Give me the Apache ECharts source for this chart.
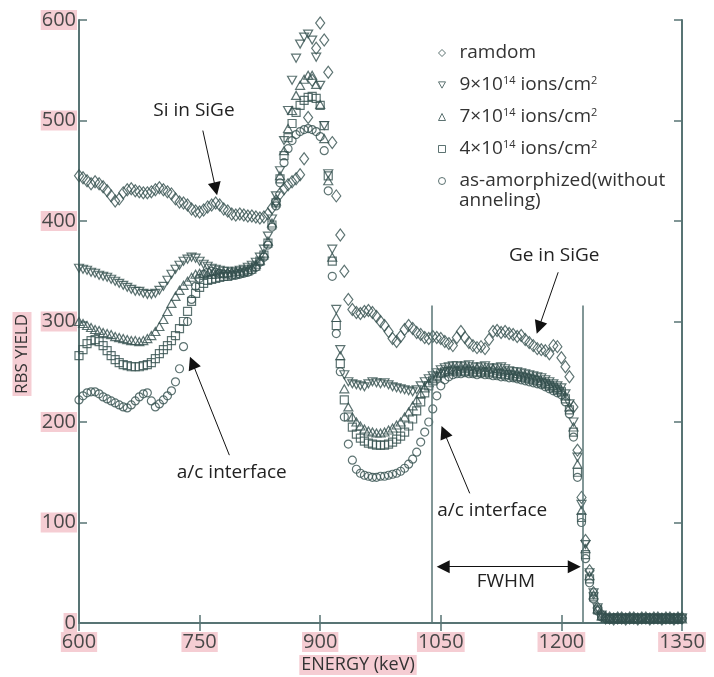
<!DOCTYPE html>
<html>
<head>
<meta charset="utf-8">
<title>RBS yield</title>
<script src="https://cdn.jsdelivr.net/npm/echarts@6/dist/echarts.min.js"></script>
<style>
  html, body { margin: 0; padding: 0; background: #fff; }
  #chart { width: 714px; height: 677px; }
</style>
</head>
<body>
<div id="chart"></div>
<script>
// energy channels (keV)
var energy = [
  600, 605, 610, 615, 620, 625, 630, 635, 640, 645,
  650, 655, 660, 665, 670, 675, 680, 685, 690, 695,
  700, 705, 710, 715, 720, 725, 730, 735, 740, 745,
  750, 755, 760, 765, 770, 775, 780, 785, 790, 795,
  800, 805, 810, 815, 820, 825, 830, 835, 840, 845,
  850, 855, 860, 865, 870, 875, 880, 885, 890, 895,
  900, 905, 910, 915, 920, 925, 930, 935, 940, 945,
  950, 955, 960, 965, 970, 975, 980, 985, 990, 995,
  1000, 1005, 1010, 1015, 1020, 1025, 1030, 1035, 1040, 1045,
  1050, 1055, 1060, 1065, 1070, 1075, 1080, 1085, 1090, 1095,
  1100, 1105, 1110, 1115, 1120, 1125, 1130, 1135, 1140, 1145,
  1150, 1155, 1160, 1165, 1170, 1175, 1180, 1185, 1190, 1195,
  1200, 1205, 1210, 1215, 1220, 1225, 1230, 1235, 1240, 1245,
  1250, 1255, 1260, 1265, 1270, 1275, 1280, 1285, 1290, 1295,
  1300, 1305, 1310, 1315, 1320, 1325, 1330, 1335, 1340, 1345,
  1350
];

var ramdom = [
  445, 443, 440, 437, 439, 437, 434, 430, 425, 420,
  422, 428, 431, 432, 430, 429, 428, 428, 429, 431,
  433, 431, 429, 427, 422, 419, 418, 416, 412, 410,
  409, 411, 414, 416, 418, 416, 412, 410, 407, 406,
  407, 406, 405, 405, 404, 403, 404, 407, 413, 420,
  427, 432, 436, 439, 442, 446, 462, 503, 540, 572,
  597, 580, 548, 478, 425, 386, 350, 322, 312, 309,
  308, 310, 311, 309, 305, 300, 296, 290, 283, 280,
  285, 292, 296, 293, 289, 287, 284, 283, 285, 284,
  283, 280, 278, 276, 284, 290, 284, 279, 276, 274,
  275, 273, 282, 290, 291, 289, 290, 288, 287, 285,
  286, 282, 279, 276, 273, 272, 271, 268, 276, 275,
  264, 255, 245, 215, 172, 125, 82, 52, 30, 15,
  8, 5, 5, 4, 5, 5, 4, 5, 5, 4,
  5, 5, 4, 5, 5, 4, 5, 5, 4, 5,
  5
];

var dose9 = [
  353, 352, 351, 349, 348, 346, 345, 344, 342, 340,
  338, 336, 334, 332, 330, 330, 328, 327, 327, 328,
  331, 335, 341, 347, 352, 356, 360, 362, 364, 363,
  360, 357, 355, 353, 352, 351, 350, 350, 349, 350,
  351, 352, 354, 356, 359, 364, 372, 385, 402, 425,
  450, 480, 510, 540, 562, 576, 583, 586, 580, 563,
  535, 495, 447, 372, 312, 272, 247, 240, 238, 237,
  236, 235, 238, 240, 239, 238, 239, 237, 235, 234,
  233, 232, 231, 230, 232, 236, 240, 243, 246, 249,
  252, 254, 255, 256, 256, 255, 256, 257, 255, 254,
  255, 256, 254, 253, 254, 255, 253, 251, 250, 250,
  249, 248, 247, 246, 245, 244, 242, 240, 238, 236,
  234, 228, 218, 200, 165, 118, 78, 50, 30, 15,
  8, 5, 4, 5, 5, 4, 5, 4, 5, 5,
  4, 5, 5, 4, 5, 5, 4, 5, 5, 4,
  5
];

var dose7 = [
  300, 298, 296, 294, 292, 291, 289, 288, 287, 285,
  284, 283, 282, 281, 281, 280, 281, 283, 286, 290,
  295, 302, 310, 318, 325, 331, 336, 340, 344, 347,
  348, 348, 347, 347, 347, 348, 348, 349, 349, 350,
  350, 351, 352, 354, 357, 361, 368, 380, 398, 420,
  445, 470, 492, 510, 525, 535, 541, 545, 545, 536,
  516, 482, 440, 364, 304, 266, 233, 215, 205, 200,
  196, 193, 191, 190, 189, 189, 190, 192, 194, 197,
  200, 205, 210, 216, 222, 228, 234, 239, 243, 246,
  249, 251, 252, 253, 252, 253, 254, 253, 252, 253,
  252, 251, 252, 253, 251, 250, 251, 249, 248, 248,
  247, 246, 245, 244, 243, 241, 240, 238, 236, 234,
  232, 226, 215, 195, 158, 112, 74, 47, 28, 14,
  7, 5, 5, 4, 5, 4, 5, 5, 4, 5,
  5, 4, 5, 4, 5, 5, 4, 5, 4, 5,
  4
];

var dose4 = [
  266, 272, 278, 281, 282, 280, 276, 271, 266, 262,
  259, 257, 256, 255, 255, 255, 256, 257, 259, 263,
  268, 272, 276, 281, 286, 293, 300, 310, 320, 328,
  334, 338, 341, 342, 343, 344, 345, 345, 346, 347,
  348, 349, 350, 352, 355, 360, 366, 378, 396, 418,
  442, 465, 483, 497, 508, 515, 520, 523, 524, 522,
  515, 495, 445, 360, 296, 258, 222, 205, 195, 188,
  184, 181, 179, 178, 177, 177, 177, 178, 180, 183,
  186, 190, 196, 203, 211, 220, 229, 236, 241, 245,
  248, 250, 250, 251, 250, 251, 250, 251, 250, 249,
  250, 249, 250, 249, 248, 248, 247, 247, 246, 245,
  245, 244, 243, 242, 241, 239, 238, 236, 234, 232,
  230, 223, 212, 190, 150, 105, 68, 44, 26, 13,
  7, 5, 4, 5, 5, 4, 5, 5, 4, 5,
  4, 5, 5, 4, 5, 4, 5, 5, 4, 5,
  5
];

var asAmorphized = [
  222, 226, 229, 230, 230, 228, 225, 223, 221, 219,
  217, 215, 214, 217, 221, 225, 228, 229, 221, 215,
  218, 222, 226, 231, 240, 253, 275, 300, 322, 335,
  343, 347, 349, 350, 349, 348, 347, 347, 346, 346,
  347, 348, 349, 351, 354, 359, 364, 376, 394, 415,
  438, 458, 472, 480, 486, 489, 491, 492, 491, 489,
  484, 470, 430, 345, 288, 250, 205, 178, 162, 153,
  149, 147, 146, 145, 145, 146, 146, 147, 148, 149,
  151, 154, 158, 163, 170, 180, 190, 200, 213, 226,
  236, 242, 245, 247, 248, 248, 249, 248, 248, 247,
  248, 247, 247, 246, 246, 245, 245, 244, 244, 243,
  242, 241, 240, 239, 238, 237, 235, 233, 231, 229,
  227, 220, 208, 185, 145, 100, 64, 40, 24, 12,
  6, 5, 4, 5, 4, 5, 5, 4, 5, 4,
  5, 5, 4, 5, 4, 5, 5, 4, 5, 5,
  4
];

var seriesNames = ['ramdom', '9×10^14 ions/cm^2', '7×10^14 ions/cm^2', '4×10^14 ions/cm^2', 'as-amorphized(without anneling)'];

// annotation arrows: [fromE, fromY, toE, toY]
var arrows = [
  [754, 490, 770, 432],
  [787, 167, 741, 259],
  [1196, 349, 1172, 294],
  [1086, 129, 1054, 190]
];
var fwhmArrow = [1053, 1216, 56];
var guideLines = [[1039, 316], [1226, 316]];
var notes = [
  ['Si in SiGe', 743, 510],
  ['a/c interface', 790, 150],
  ['Ge in SiGe', 1191, 366],
  ['a/c interface', 1114, 112],
  ['FWHM', 1131, 41]
];

var FONT = '"Open Sans", "Noto Sans", sans-serif';
var markerColor = '#34504f';
var axisColor = '#587474';
var pink = '#f5cdd3';

function scatter(name, values, symbol, size, rotate) {
  return {
    name: name,
    type: 'scatter',
    data: energy.map(function (e, i) { return [e, values[i]]; }),
    symbol: symbol,
    symbolSize: size,
    symbolRotate: rotate || 0,
    itemStyle: { color: 'rgba(255,255,255,0)', borderColor: markerColor, borderWidth: 1.2 },
    emphasis: { disabled: true },
    silent: true
  };
}

var lineData = arrows.map(function (a) {
  return [
    { coord: [a[0], a[1]], symbol: 'none' },
    { coord: [a[2], a[3]], symbol: 'triangle', symbolSize: 13 }
  ];
});
lineData.push([
  { coord: [fwhmArrow[0], fwhmArrow[2]], symbol: 'triangle', symbolSize: 13 },
  { coord: [fwhmArrow[1], fwhmArrow[2]], symbol: 'triangle', symbolSize: 13 }
]);
guideLines.forEach(function (g) {
  lineData.push([
    { coord: [g[0], 0], symbol: 'none', lineStyle: { color: axisColor, width: 1.5 } },
    { coord: [g[0], g[1]], symbol: 'none' }
  ]);
});

var series = [
  scatter(seriesNames[0], ramdom, 'diamond', [9, 12]),
  scatter(seriesNames[1], dose9, 'triangle', [9, 8], 180),
  scatter(seriesNames[2], dose7, 'triangle', [9, 8]),
  scatter(seriesNames[3], dose4, 'rect', 8),
  scatter(seriesNames[4], asAmorphized, 'circle', 8)
];
series[0].markLine = {
  silent: true,
  animation: false,
  label: { show: false },
  lineStyle: { color: '#111', width: 1, type: 'solid' },
  itemStyle: { color: '#111' },
  data: lineData
};
series[0].markPoint = {
  silent: true,
  animation: false,
  symbol: 'rect',
  symbolSize: 1,
  itemStyle: { color: 'rgba(0,0,0,0)' },
  label: {
    show: true, position: 'inside', color: '#222', fontSize: 19, fontFamily: FONT,
    formatter: function (p) { return p.name; }
  },
  data: notes.map(function (n) { return { name: n[0], coord: [n[1], n[2]] }; })
};

var tickLabel = {
  fontSize: 20, fontFamily: FONT, color: '#484848',
  backgroundColor: pink, lineHeight: 20, padding: [0, 1],
  formatter: function (v) { return String(v); }
};

var option = {
  animation: false,
  backgroundColor: '#fff',
  grid: { left: 79, top: 20, width: 603, height: 603, outerBoundsMode: 'none' },
  xAxis: [{
    type: 'value', min: 600, max: 1350, interval: 150,
    axisLine: { lineStyle: { color: axisColor, width: 2 } },
    axisTick: { inside: true, length: 8, lineStyle: { color: axisColor, width: 1.5 } },
    axisLabel: Object.assign({ margin: 9 }, tickLabel),
    splitLine: { show: false }
  }, {
    type: 'value', position: 'top', min: 600, max: 1350, interval: 150,
    axisLine: { show: true, lineStyle: { color: axisColor, width: 2 } },
    axisTick: { show: true, inside: true, length: 8, lineStyle: { color: axisColor, width: 1.5 } },
    axisLabel: { show: false },
    splitLine: { show: false }
  }],
  yAxis: [{
    type: 'value', min: 0, max: 600, interval: 100,
    axisLine: { show: true, lineStyle: { color: axisColor, width: 2 } },
    axisTick: { show: true, inside: true, length: 8, lineStyle: { color: axisColor, width: 1.5 } },
    axisLabel: Object.assign({ margin: 2 }, tickLabel),
    splitLine: { show: false }
  }, {
    type: 'value', position: 'right', min: 0, max: 600, interval: 100,
    axisLine: { show: true, lineStyle: { color: axisColor, width: 2 } },
    axisTick: { show: true, inside: true, length: 8, lineStyle: { color: axisColor, width: 1.5 } },
    axisLabel: { show: false },
    splitLine: { show: false }
  }],
  legend: {
    orient: 'vertical', left: 438, top: 43, padding: 0, itemGap: 12,
    itemWidth: 7, itemHeight: 7, selectedMode: false,
    data: [
      { name: seriesNames[0], icon: 'diamond' },
      { name: seriesNames[1], icon: 'path://M0,0L10,0L5,9Z' },
      { name: seriesNames[2], icon: 'triangle' },
      { name: seriesNames[3], icon: 'rect' },
      { name: seriesNames[4], icon: 'circle' }
    ],
    itemStyle: { color: 'rgba(255,255,255,0)', borderColor: markerColor, borderWidth: 1 },
    formatter: function (name) {
      var shown = name === seriesNames[4] ? 'as-amorphized(without' : name;
      return shown.replace(/\^(\d+)/g, '{s|$1}');
    },
    textStyle: {
      fontSize: 19, lineHeight: 20, color: '#333', fontFamily: FONT, padding: [0, 0, 0, 9],
      rich: { s: { fontSize: 11, lineHeight: 11, verticalAlign: 'top', color: '#333', fontFamily: FONT } }
    }
  },
  graphic: [
    {
      type: 'text', x: 22, y: 354, rotation: Math.PI / 2, silent: true,
      style: { text: 'RBS YIELD', align: 'center', verticalAlign: 'middle', font: '17px ' + FONT, fill: '#333', backgroundColor: pink, padding: [1, 2] }
    },
    {
      type: 'text', x: 358, y: 665, silent: true,
      style: { text: 'ENERGY (keV)', align: 'center', verticalAlign: 'middle', font: '18px ' + FONT, fill: '#333', backgroundColor: pink, padding: [1, 2] }
    },
    {
      type: 'text', x: 459, y: 201, silent: true,
      style: { text: 'anneling)', align: 'left', verticalAlign: 'middle', font: '19px ' + FONT, fill: '#333' }
    }
  ],
  series: series
};

var myChart = echarts.init(document.getElementById('chart'));
myChart.setOption(option);
</script>
</body>
</html>
